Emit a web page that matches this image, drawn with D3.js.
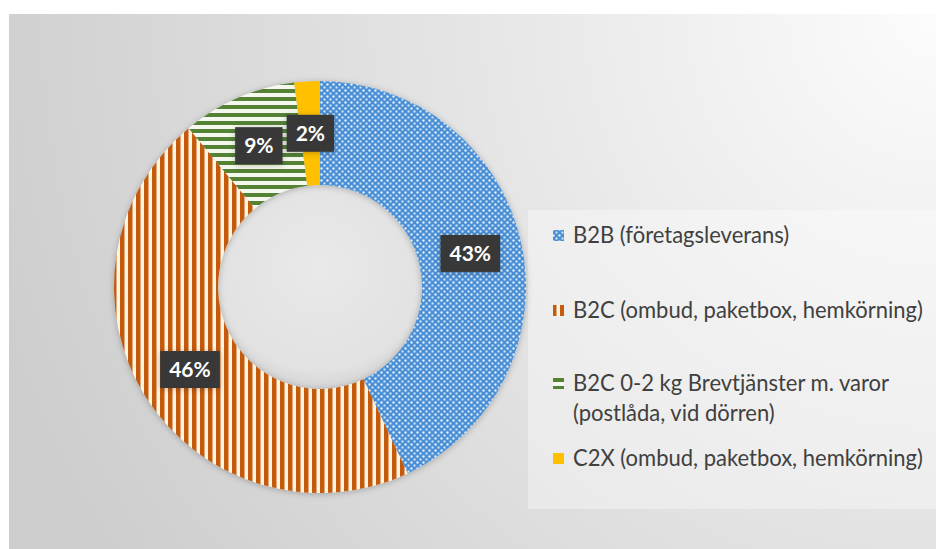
<!DOCTYPE html>
<html>
<head>
<meta charset="utf-8">
<script src="https://cdn.jsdelivr.net/npm/d3@7"></script>
<style>
  html, body { margin: 0; padding: 0; background: #ffffff; }
  svg { display: block; }
</style>
</head>
<body>
<svg id="chart" width="936" height="549"></svg>
<script>
// data
var categories = ["B2B (företagsleverans)", "B2C (ombud, paketbox, hemkörning)", "B2C 0-2 kg Brevtjänster m. varor (postlåda, vid dörren)", "C2X (ombud, paketbox, hemkörning)"];
var legendLines = [["B2B (företagsleverans)"], ["B2C (ombud, paketbox, hemkörning)"], ["B2C 0-2 kg Brevtjänster m. varor", "(postlåda, vid dörren)"], ["C2X (ombud, paketbox, hemkörning)"]];
var shares = [43, 46, 9, 2];
var patternIds = ["pat-dots", "pat-vert", "pat-horiz", "pat-solid"];

var W = 936, H = 549;
var cx = 320, cy = 287, rOuter = 206, rInner = 102;

var svg = d3.select("#chart");
var defs = svg.append("defs");

/// background gradient
var bg = defs.append("radialGradient")
  .attr("id", "bg-grad")
  .attr("gradientUnits", "userSpaceOnUse")
  .attr("cx", W).attr("cy", 14).attr("r", 1000);
bg.append("stop").attr("offset", "0").attr("stop-color", "#fcfcfc");
bg.append("stop").attr("offset", "0.45").attr("stop-color", "#e6e6e6");
bg.append("stop").attr("offset", "1").attr("stop-color", "#cdcdcd");

/// patterns
var p1 = defs.append("pattern").attr("id", "pat-dots")
  .attr("patternUnits", "userSpaceOnUse").attr("width", 6).attr("height", 6);
p1.append("rect").attr("width", 6).attr("height", 6).attr("fill", "#4a8fd6");
p1.append("rect").attr("x", 0.5).attr("y", 0.5).attr("width", 2).attr("height", 2).attr("fill", "#ffffff");
p1.append("rect").attr("x", 3.5).attr("y", 3.5).attr("width", 2).attr("height", 2).attr("fill", "#d9e9fa");

var p2 = defs.append("pattern").attr("id", "pat-vert")
  .attr("patternUnits", "userSpaceOnUse").attr("width", 8).attr("height", 8);
p2.append("rect").attr("width", 8).attr("height", 8).attr("fill", "#fff4dd");
p2.append("rect").attr("x", 0).attr("width", 4.5).attr("height", 8).attr("fill", "#c55a11");

var p3 = defs.append("pattern").attr("id", "pat-horiz")
  .attr("patternUnits", "userSpaceOnUse").attr("width", 8).attr("height", 8);
p3.append("rect").attr("width", 8).attr("height", 8).attr("fill", "#f5f8ee");
p3.append("rect").attr("y", 2).attr("width", 8).attr("height", 4).attr("fill", "#548235");

var p4 = defs.append("pattern").attr("id", "pat-solid")
  .attr("patternUnits", "userSpaceOnUse").attr("width", 8).attr("height", 8);
p4.append("rect").attr("width", 8).attr("height", 8).attr("fill", "#ffc000");

// soft shadows
var sh = defs.append("filter").attr("id", "shadow")
  .attr("x", "-20%").attr("y", "-20%").attr("width", "140%").attr("height", "140%");
sh.append("feDropShadow").attr("dx", 0).attr("dy", 1).attr("stdDeviation", 3)
  .attr("flood-color", "#000").attr("flood-opacity", 0.25);

var holeGrad = defs.append("radialGradient").attr("id", "hole-grad")
  .attr("cx", "50%").attr("cy", "40%").attr("r", "60%");
holeGrad.append("stop").attr("offset", "0").attr("stop-color", "#e9e9e9");
holeGrad.append("stop").attr("offset", "0.85").attr("stop-color", "#e2e2e2");
holeGrad.append("stop").attr("offset", "1").attr("stop-color", "#d4d4d4");

/// background
svg.append("rect").attr("x", 9).attr("y", 14).attr("width", W - 9).attr("height", H - 14)
  .attr("fill", "url(#bg-grad)");

// legend panel
svg.append("rect").attr("x", 528).attr("y", 210).attr("width", W - 528).attr("height", 299)
  .attr("fill", "#ffffff").attr("opacity", 0.35);

/// donut
var pie = d3.pie().sort(null).value(function(d){ return d; });
var arcs = pie(shares);
var arc = d3.arc().innerRadius(rInner).outerRadius(rOuter);
var labelArc = d3.arc().innerRadius((rInner + rOuter) / 2).outerRadius((rInner + rOuter) / 2);

var g = svg.append("g").attr("transform", "translate(" + cx + "," + cy + ")");

g.append("circle").attr("r", rInner).attr("fill", "url(#hole-grad)");

g.append("g").attr("filter", "url(#shadow)")
  .selectAll("path")
  .data(arcs)
  .enter()
  .append("path")
  .attr("d", arc)
  .attr("fill", function(d, i){ return "url(#" + patternIds[i] + ")"; });

/// data labels
var labels = arcs.map(function(d, i){
  var c = labelArc.centroid(d);
  return { x: c[0], y: c[1], text: shares[i] + "%" };
});

var lg = g.append("g");
var boxes = lg.selectAll("g.lbl").data(labels).enter().append("g").attr("class", "lbl");
var txt = boxes.append("text")
  .attr("text-anchor", "middle")
  .attr("dy", "0.36em")
  .style("font-family", "Lato, 'Open Sans', sans-serif")
  .style("font-weight", "bold")
  .style("font-size", "21px")
  .attr("fill", "#ffffff")
  .text(function(d){ return d.text; });

txt.each(function(d){ d.w = this.getComputedTextLength() + 18; d.h = 37; });

// nudge labels that overlap the one after it (small slices near the top)
for (var i = labels.length - 2; i >= 0; i--) {
  var a = labels[i], b = labels[i + 1];
  var overlapX = Math.abs(a.x - b.x) < (a.w + b.w) / 2;
  var overlapY = Math.abs(a.y - b.y) < (a.h + b.h) / 2;
  if (overlapX && overlapY) {
    a.y = b.y;
    a.x = b.x - (a.w + b.w) / 2 - 4;
  }
}

boxes.attr("transform", function(d){ return "translate(" + d.x + "," + d.y + ")"; });
boxes.insert("rect", "text")
  .attr("x", function(d){ return -d.w / 2; })
  .attr("y", function(d){ return -d.h / 2; })
  .attr("width", function(d){ return d.w; })
  .attr("height", function(d){ return d.h; })
  .attr("fill", "#383838")
  .attr("filter", "url(#shadow)");

/// legend
var legendX = 553, legendRows = [235, 310, 383, 458], lineGap = 30;
var legendWidth = 350; // width of the longest legend line
var leg = svg.append("g");
var legTexts = [];
legendLines.forEach(function(lines, i){
  var y = legendRows[i];
  leg.append("rect")
    .attr("x", legendX).attr("y", y - 5)
    .attr("width", 11).attr("height", 11)
    .attr("fill", "url(#" + patternIds[i] + ")");
  lines.forEach(function(line, k){
    var t = leg.append("text")
      .attr("dy", "0.35em")
      .style("font-family", "Lato, 'Open Sans', sans-serif")
      .style("font-size", "24px")
      .attr("fill", "#404040")
      .text(line);
    legTexts.push({ node: t, x: legendX + 20, y: y + k * lineGap });
  });
});
// narrow the glyphs a little so the longest line fits like the original font
var maxLen = d3.max(legTexts, function(d){ return d.node.node().getComputedTextLength(); });
var sx = legendWidth / maxLen;
legTexts.forEach(function(d){
  d.node.attr("transform", "translate(" + d.x + "," + d.y + ") scale(" + sx + ",1)");
});
</script>
</body>
</html>
